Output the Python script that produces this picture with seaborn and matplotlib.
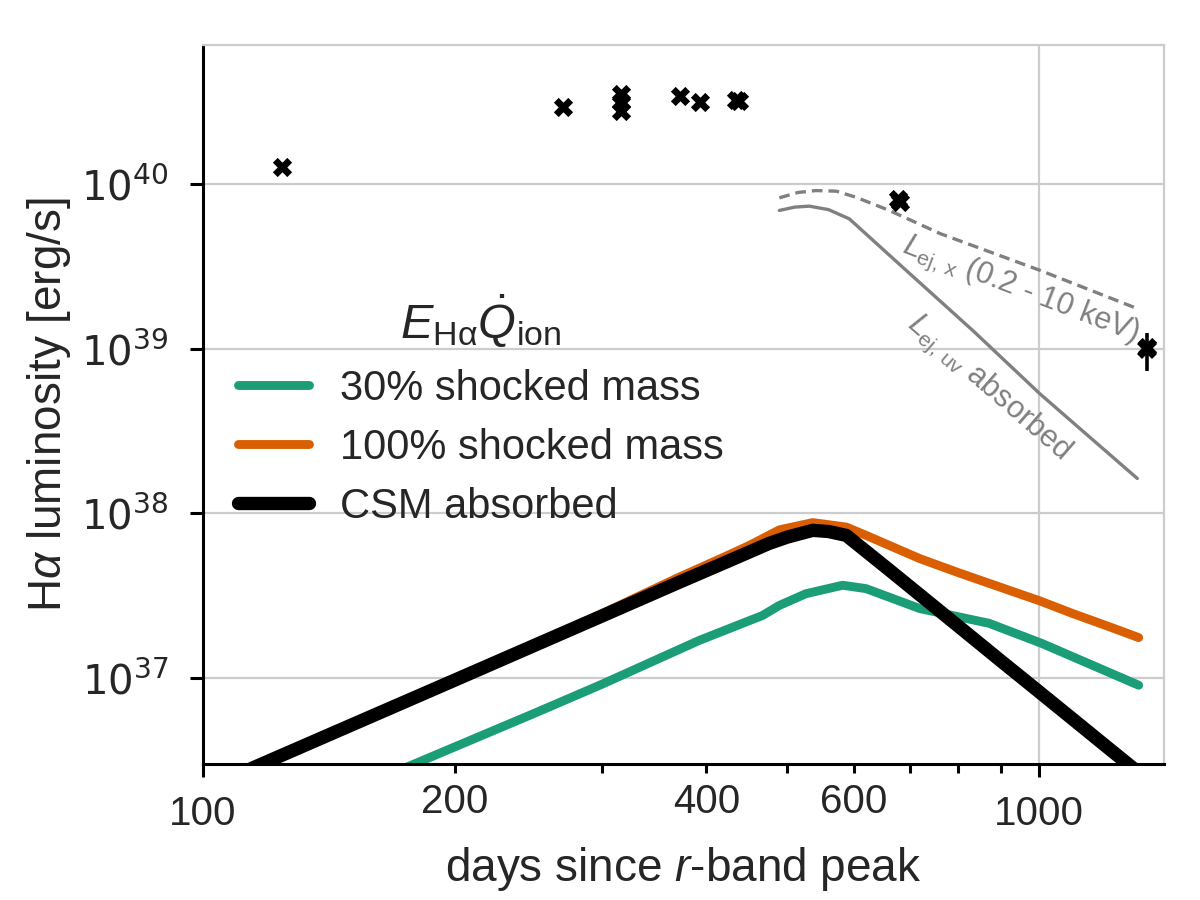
import matplotlib
matplotlib.use("Agg")
import matplotlib.pyplot as plt
import numpy as np
import pandas as pd
import seaborn as sns
from matplotlib.ticker import FixedLocator, FixedFormatter, NullLocator

# ---- data (days since r-band peak, L_Halpha in erg/s) ----
DAYS_30 = [170, 250, 300, 392, 467, 489, 526, 582, 621, 720, 871, 1008, 1315]
LUM_30 = [2.69e36, 6.15e36, 9.16e36, 1.69e37, 2.40e37, 2.76e37, 3.25e37, 3.66e37,
          3.49e37, 2.64e37, 2.15e37, 1.62e37, 9.04e36]

DAYS_100 = [110, 150, 200, 250, 300, 370, 420, 450, 489, 536, 588, 621, 720, 800,
            900, 1000, 1100, 1200, 1315]
LUM_100 = [2.62e36, 5.20e36, 9.80e36, 1.61e37, 2.46e37, 4.07e37, 5.43e37, 6.38e37,
           7.94e37, 8.79e37, 8.26e37, 7.35e37, 5.31e37, 4.37e37, 3.55e37, 2.95e37,
           2.45e37, 2.09e37, 1.76e37]

DAYS_CSM = [110, 150, 200, 250, 300, 370, 420, 450, 475, 500, 536, 560, 588, 598,
            656, 720, 800, 900, 1000, 1100, 1200, 1300]
LUM_CSM = [2.59e36, 5.14e36, 9.70e36, 1.59e37, 2.38e37, 3.79e37, 5.00e37, 5.82e37,
           6.56e37, 7.18e37, 7.89e37, 7.76e37, 7.35e37, 6.86e37, 4.70e37, 3.20e37,
           2.07e37, 1.27e37, 8.24e36, 5.56e36, 3.88e36, 2.79e36]

DAYS_XRAY = [489, 515, 541, 572, 604, 662, 761, 1003, 1304]
LUM_XRAY = [8.26e39, 8.90e39, 9.14e39, 9.06e39, 8.32e39, 6.92e39, 5.01e39, 2.99e39,
            1.77e39]

DAYS_UV = [489, 510, 531, 560, 593, 681, 833, 1003, 1310]
LUM_UV = [6.92e39, 7.25e39, 7.35e39, 7.00e39, 6.15e39, 3.25e39, 1.29e39, 5.30e38,
          1.63e38]

DAYS_OBS = [124.4, 269.6, 316.6, 316.6, 316.6, 371.7, 393.2, 434, 438, 678, 681, 1345]
LUM_OBS = [1.27e40, 2.93e40, 3.53e40, 3.14e40, 2.77e40, 3.45e40, 3.14e40, 3.25e40,
           3.18e40, 8.1e39, 7.8e39, 1.03e39]
# last epoch with visible error bar
DAYS_ERR = [1347]
LUM_ERR = [9.9e38]
LUM_ERR_LO = [2.6e38]
LUM_ERR_HI = [2.5e38]

LABELS = ["30% shocked mass", "100% shocked mass", "CSM absorbed"]
COLORS = ["#1b9e77", "#d95f02", "black"]

X_MAJOR = [100, 1000]
X_MAJOR_LABELS = ["100", "1000"]
X_MINOR = [200, 300, 400, 500, 600, 700, 800, 900]
X_MINOR_LABELS = ["200", "", "400", "", "600", "", "", ""]
Y_TICKS = [1e37, 1e38, 1e39, 1e40]
Y_TICK_LABELS = [r"$10^{37}$", r"$10^{38}$", r"$10^{39}$", r"$10^{40}$"]

sns.set_theme(style="whitegrid")
plt.rcParams["font.family"] = ["Liberation Sans", "DejaVu Sans"]
plt.rcParams["mathtext.fontset"] = "custom"
plt.rcParams["mathtext.rm"] = "Liberation Sans"
plt.rcParams["mathtext.it"] = "Liberation Sans:italic"
plt.rcParams["mathtext.bf"] = "Liberation Sans:bold"

fig, ax = plt.subplots(figsize=(6, 4.5), dpi=200)
fig.subplots_adjust(left=0.169, right=0.970, top=0.950, bottom=0.151)

# model curves
sns.lineplot(x=DAYS_30, y=LUM_30, color=COLORS[0], lw=3.2, ax=ax, sort=False,
             label=LABELS[0], solid_capstyle="round", legend=False)
sns.lineplot(x=DAYS_100, y=LUM_100, color=COLORS[1], lw=3.2, ax=ax, sort=False,
             label=LABELS[1], solid_capstyle="round", legend=False)
sns.lineplot(x=DAYS_CSM, y=LUM_CSM, color=COLORS[2], lw=4.8, ax=ax, sort=False,
             label=LABELS[2], solid_capstyle="round", legend=False)
model_lines = list(ax.get_lines())

sns.lineplot(x=DAYS_XRAY, y=LUM_XRAY, color="grey", lw=1.2, ax=ax, sort=False,
             legend=False)
ax.get_lines()[-1].set_dashes((3.2, 1.8))
sns.lineplot(x=DAYS_UV, y=LUM_UV, color="grey", lw=1.2, ax=ax, sort=False,
             legend=False, solid_capstyle="round")

# observations
obs = pd.DataFrame({"days": DAYS_OBS, "lum": LUM_OBS})
sns.scatterplot(data=obs, x="days", y="lum", marker="X", s=48, color="black",
                linewidth=0, ax=ax, zorder=5, legend=False)
ax.errorbar(DAYS_ERR, LUM_ERR, yerr=[LUM_ERR_LO, LUM_ERR_HI], fmt="X", ms=7,
            mew=0, color="black", elinewidth=1.3, capsize=0, zorder=5)

ax.text(951, 2.26e39, r"$L_{\rm ej,\,x}$ (0.2 - 10 keV)", color="grey", fontsize=11,
        rotation=-21, ha="center", va="center", rotation_mode="anchor")
ax.text(869, 5.74e38, r"$L_{\rm ej,\,uv}$ absorbed", color="grey", fontsize=11,
        rotation=-41, ha="center", va="center", rotation_mode="anchor")

ax.set_xscale("log")
ax.set_yscale("log")
ax.set_xlim(100, 1410)
ax.set_ylim(3e36, 7e40)

ax.xaxis.set_major_locator(FixedLocator(X_MAJOR))
ax.xaxis.set_major_formatter(FixedFormatter(X_MAJOR_LABELS))
ax.xaxis.set_minor_locator(FixedLocator(X_MINOR))
ax.xaxis.set_minor_formatter(FixedFormatter(X_MINOR_LABELS))
ax.yaxis.set_major_locator(FixedLocator(Y_TICKS))
ax.yaxis.set_major_formatter(FixedFormatter(Y_TICK_LABELS))
ax.yaxis.set_minor_locator(NullLocator())

ax.grid(True, which="major", color="#cccccc", lw=0.8)
ax.grid(False, which="minor")
ax.tick_params(axis="both", which="major", length=4.8, width=1.1, color="black",
               labelsize=14.5, labelcolor="#262626")
ax.tick_params(axis="x", which="major", bottom=True, pad=6.5)
ax.tick_params(axis="x", which="minor", bottom=True, length=3.3, width=1.1,
               color="black", labelsize=14.5, labelcolor="#262626", pad=3.6)
ax.tick_params(axis="y", which="major", left=True, pad=7.5)
for lab in ax.get_yticklabels():
    lab.set_math_fontfamily("dejavusans")

for side in ["left", "bottom"]:
    ax.spines[side].set_color("black")
    ax.spines[side].set_linewidth(1.1)
for side in ["top", "right"]:
    ax.spines[side].set_color("#cccccc")
    ax.spines[side].set_linewidth(0.8)

ax.set_xlabel(r"days since $r$-band peak", fontsize=16.5, color="#262626")
ax.set_ylabel(r"H$\alpha$ luminosity [erg/s]", fontsize=16.5, color="#262626",
              labelpad=3)

leg = ax.legend(handles=model_lines, labels=LABELS, loc="upper left",
                bbox_to_anchor=(0.019, 0.678), borderaxespad=0, frameon=False,
                fontsize=15, title=r"$E_{\rm H\alpha}\dot{Q}_{\rm ion}$",
                title_fontsize=17.5, handlelength=1.7, handletextpad=0.75,
                labelspacing=0.45)
leg.get_title().set_color("#262626")
for t in leg.get_texts():
    t.set_color("#262626")

fig.savefig("out.png", dpi=200)
